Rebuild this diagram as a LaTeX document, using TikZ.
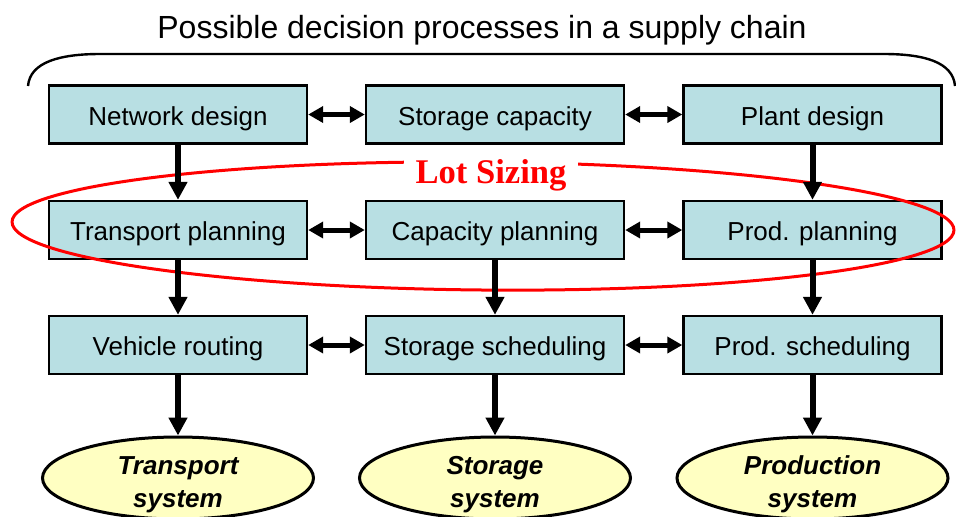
\documentclass[tikz,border=0pt]{standalone}
\usepackage{fontspec}
\setmainfont{Liberation Sans}
\newfontfamily\lotfont{Liberation Serif}
\usetikzlibrary{arrows.meta,shapes.geometric}
\definecolor{boxcyan}{RGB}{184,223,227}
\definecolor{sysyellow}{RGB}{255,255,194}
\definecolor{lotred}{RGB}{255,0,0}
\tikzset{
	decision/.style={draw=black, line width=1.2pt, fill=boxcyan, minimum width=129pt, minimum height=29pt, inner sep=0pt, text height=10.7pt, text depth=0pt, font=\fontsize{13}{15}\selectfont},
	system/.style={ellipse, draw=black, line width=1.5pt, fill=sysyellow, minimum width=135.5pt, minimum height=41pt, inner sep=0pt},
	systext/.style={align=center, yshift=-3.2pt, font=\fontsize{13}{16.5}\selectfont\bfseries\itshape},
	down/.style={line width=3pt, -{Triangle[length=9pt,width=9pt]}},
	both/.style={line width=2.5pt, {Triangle[length=7.5pt,width=8pt]}-{Triangle[length=7.5pt,width=8pt]}},
}
\begin{document}
\begin{tikzpicture}[x=0.5pt, y=-0.5pt]
			%%%%% START %%%%%
			\useasboundingbox (0,0) rectangle (956,516);
			
			\node[font=\fontsize{16}{19}\selectfont] (title) at (482,30) {Possible decision processes in a supply chain};
			\draw[line width=1.2pt] (28,86) .. controls (30,62) and (60,54) .. (100,54) -- (884,54) .. controls (924,54) and (953,62) .. (955,86);
			
			% decision boxes
			\node[decision] (nd) at (178,114.5) {Network design};
			\node[decision] (sc) at (495,114.5) {Storage capacity};
			\node[decision] (pd) at (812.5,114.5) {Plant design};
			
			\node[decision] (tp) at (178,230) {Transport planning};
			\node[decision] (cp) at (495,230) {Capacity planning};
			\node[decision] (pp) at (812.5,230) {Prod. planning};
			
			\node[decision] (vr) at (178,345) {Vehicle routing};
			\node[decision] (ss) at (495,345) {Storage scheduling};
			\node[decision] (ps) at (812.5,345) {Prod. scheduling};
			
			% systems
			\node[system, label={[systext]center:Transport\\system}] (ts) at (178,478) {};
			\node[system, label={[systext]center:Storage\\system}] (sts) at (495,478) {};
			\node[system, label={[systext]center:Production\\system}] (prs) at (812.5,478) {};
			
			\draw[lotred, line width=1.5pt, rotate around={-0.5:(483,226)}] (483,226) ellipse [x radius=471, y radius=64];
			
			\draw[both] (nd) -- (sc);
			\draw[both] (sc) -- (pd);
			\draw[both] (tp) -- (cp);
			\draw[both] (cp) -- (pp);
			\draw[both] (vr) -- (ss);
			\draw[both] (ss) -- (ps);
			
			\draw[down] (nd) -- (tp);
			\draw[down] (pd) -- (pp);
			\draw[down] (tp) -- (vr);
			\draw[down] (cp) -- (ss);
			\draw[down] (pp) -- (ps);
			\draw[down] (vr) -- (ts);
			\draw[down] (ss) -- (sts);
			\draw[down] (ps) -- (prs);
			
			\node[fill=white, text=lotred, inner xsep=6pt, inner ysep=1pt, font=\lotfont\bfseries\fontsize{17.3}{20}\selectfont] (lot) at (491,175) {Lot Sizing};
			%%%%% END %%%%%
\end{tikzpicture}
\end{document}
